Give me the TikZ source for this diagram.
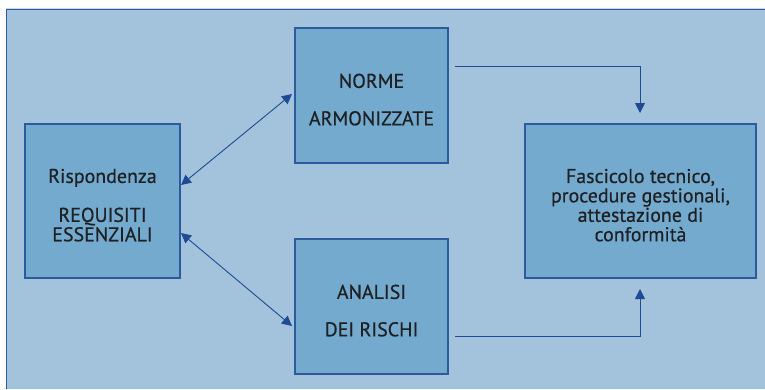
\documentclass[tikz,border=0pt]{standalone}
\usepackage{fontspec}
\setmainfont{PT Sans}
\newfontfamily\diafont{PT Sans}[FakeBold=0.5]
\usetikzlibrary{arrows.meta}
\definecolor{bgblue}{HTML}{A2C3DB}
\definecolor{boxblue}{HTML}{73AACD}
\definecolor{edgeblue}{HTML}{2C5A9C}
\definecolor{arrblue}{HTML}{1F4B94}
\definecolor{txt}{HTML}{1E2024}
\begin{document}
\begin{tikzpicture}[x=1bp,y=-1bp,
  boxnode/.style={draw=edgeblue,line width=1.2bp,fill=boxblue,inner sep=0pt,
    text=txt,align=center,font=\diafont\fontsize{20}{19.5}\selectfont},
  conn/.style={draw=arrblue,line width=0.9bp},
  tip/.style={-{Triangle[length=10bp,width=10bp]}},
  dtip/.style={{Triangle[length=10bp,width=10bp]}-{Triangle[length=10bp,width=10bp]}}]
\useasboundingbox (0,0) rectangle (765,389);
\fill[white] (0,0) rectangle (765,389);
\fill[bgblue] (6,9) rectangle (765,389);
\draw[edgeblue,line width=1.5bp] (6.5,389) -- (6.5,9.5) -- (765,9.5);
\draw[bgblue!60!white,line width=0.8bp] (6,8) -- (765,8);
% boxes
\node[boxnode,minimum width=155bp,minimum height=154bp] (req) at (102.5,201)
  {\rule{0pt}{0pt}\\[3bp]Rispondenza\\[19.5bp]REQUISITI\\ESSENZIALI};
\node[boxnode,minimum width=153bp,minimum height=135bp] (norme) at (371.5,95.5)
  {\rule{0pt}{0pt}\\[3bp]NORME\\[18bp]ARMONIZZATE};
\node[boxnode,minimum width=153bp,minimum height=135bp] (analisi) at (371.5,306.5)
  {\rule{0pt}{0pt}\\[3bp]ANALISI\\[18bp]DEI RISCHI};
\node[boxnode,minimum width=231bp,minimum height=154bp] (fasc) at (640.5,201)
  {\rule{0pt}{0pt}\\[3bp]Fascicolo tecnico,\\procedure gestionali,\\attestazione di\\conformità};
% connectors
\coordinate (a1) at (181,185);
\coordinate (a2) at (292,94);
\coordinate (b1) at (181,233);
\coordinate (b2) at (292,326);
\draw[conn,dtip] (a1) -- (a2);
\draw[conn,dtip] (b1) -- (b2);
\coordinate (c1) at (455,66);
\coordinate (c2) at (640,113);
\draw[conn,tip] (c1) -| (c2);
\coordinate (d1) at (455,336);
\coordinate (d2) at (640,289);
\draw[conn,tip] (d1) -| (d2);
\end{tikzpicture}
\end{document}
